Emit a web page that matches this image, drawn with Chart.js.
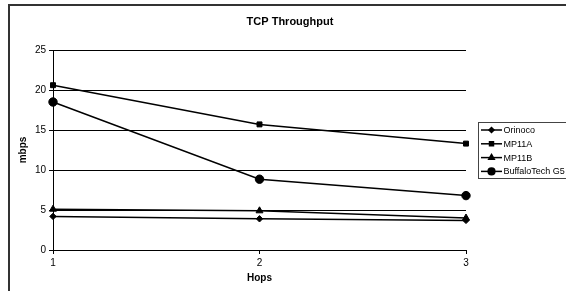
<!DOCTYPE html>
<html>
<head>
<meta charset="utf-8">
<title>TCP Throughput</title>
<script src="https://cdn.jsdelivr.net/npm/chart.js@4/dist/chart.umd.min.js"></script>
<style>
    body { margin: 0; background: #fff; }
    canvas { display: block; }
</style>
</head>
<body>
<canvas id="tcpChart" width="566" height="291"></canvas>
<script>
// values
const hops = ['1', '2', '3'];
const orinoco = [4.2, 3.9, 3.7];
const mp11a = [20.6, 15.7, 13.3];
const mp11b = [5.1, 4.9, 4.0];
const buffalo = [18.5, 8.85, 6.8];
const yTicks = [0, 5, 10, 15, 20, 25];

const seriesNames = ['Orinoco', 'MP11A', 'MP11B', 'BuffaloTech G5'];
const seriesData = [orinoco, mp11a, mp11b, buffalo];
const markers = [
    { style: 'rectRot', radius: 3.2 },
    { style: 'rect', radius: 3.5 },
    { style: 'triangle', radius: 4 },
    { style: 'circle', radius: 4.2 },
];

Chart.defaults.font.family = "'Liberation Sans', Arial, sans-serif";
Chart.defaults.color = '#000';

const FONT = "'Liberation Sans', Arial, sans-serif";

// frame, title and legend drawn the way the old spreadsheet chart does it
const excelLook = {
    id: 'excelLook',
    beforeDraw(chart) {
        const ctx = chart.ctx;
        ctx.save();
        ctx.fillStyle = '#fff';
        ctx.fillRect(0, 0, chart.width, chart.height);
        ctx.restore();
    },
    afterDraw(chart) {
        const ctx = chart.ctx;
        ctx.save();

        // outer frame
        ctx.strokeStyle = '#333';
        ctx.lineWidth = 2;
        ctx.strokeRect(9, 5, 620, 320);

        // title
        ctx.fillStyle = '#000';
        ctx.font = 'bold 11px ' + FONT;
        ctx.textAlign = 'center';
        ctx.textBaseline = 'middle';
        ctx.fillText('TCP Throughput', 290, 22);

        // legend
        ctx.strokeStyle = '#444';
        ctx.lineWidth = 1;
        ctx.strokeRect(478.5, 122.5, 120, 56);

        ctx.font = '9px ' + FONT;
        ctx.textAlign = 'left';
        chart.data.datasets.forEach((ds, i) => {
            const y = 130 + i * 13.8;
            ctx.strokeStyle = '#000';
            ctx.lineWidth = 1.5;
            ctx.beginPath();
            ctx.moveTo(481, y);
            ctx.lineTo(502, y);
            ctx.stroke();
            ctx.fillStyle = '#000';
            Chart.helpers.drawPoint(ctx, {
                pointStyle: ds.pointStyle,
                radius: ds.pointRadius * 0.8,
                borderWidth: 1,
                rotation: 0,
            }, 491.5, y);
            ctx.fill();
            ctx.fillStyle = '#000';
            ctx.fillText(ds.label, 503.5, y + 0.5);
        });

        ctx.restore();
    }
};

const datasets = seriesNames.map((name, i) => ({
    label: name,
    data: seriesData[i],
    borderColor: '#000',
    backgroundColor: '#000',
    borderWidth: 1.5,
    pointStyle: markers[i].style,
    pointRadius: markers[i].radius,
    pointHoverRadius: markers[i].radius,
    pointBorderWidth: 1,
    pointBorderColor: '#000',
    pointBackgroundColor: '#000',
    tension: 0,
    clip: false,
}));

new Chart(document.getElementById('tcpChart'), {
    type: 'line',
    data: {
        labels: hops,
        datasets: datasets,
    },
    plugins: [excelLook],
    options: {
        responsive: false,
        animation: false,
        events: [],
        layout: {
            padding: { top: 50, right: 100, bottom: 0, left: 0 }
        },
        plugins: {
            legend: { display: false },
            title: { display: false },
            tooltip: { enabled: false },
        },
        scales: {
            x: {
                type: 'category',
                offset: false,
                afterFit(scale) { scale.height = 41; },
                grid: {
                    display: true,
                    drawOnChartArea: false,
                    drawTicks: true,
                    tickLength: 4,
                    color: '#000',
                },
                border: { display: true, color: '#000', width: 1 },
                ticks: {
                    padding: 3,
                    maxRotation: 0,
                    font: { size: 10 },
                    color: '#000',
                },
                title: {
                    display: true,
                    text: 'Hops',
                    font: { size: 10, weight: 'bold' },
                    color: '#000',
                    padding: { top: 0, bottom: 7 },
                },
            },
            y: {
                min: yTicks[0],
                max: yTicks[yTicks.length - 1],
                afterFit(scale) { scale.width = 53; },
                afterBuildTicks(scale) {
                    scale.ticks = yTicks.map(v => ({ value: v }));
                },
                grid: {
                    color: '#000',
                    lineWidth: 1,
                    drawTicks: true,
                    tickLength: 4,
                },
                border: { display: true, color: '#000', width: 1 },
                ticks: {
                    padding: 3,
                    font: { size: 10 },
                    color: '#000',
                },
                title: {
                    display: true,
                    text: 'mbps',
                    font: { size: 10, weight: 'bold' },
                    color: '#000',
                    padding: { top: 17, bottom: 0 },
                },
            },
        },
    },
});
</script>
</body>
</html>
